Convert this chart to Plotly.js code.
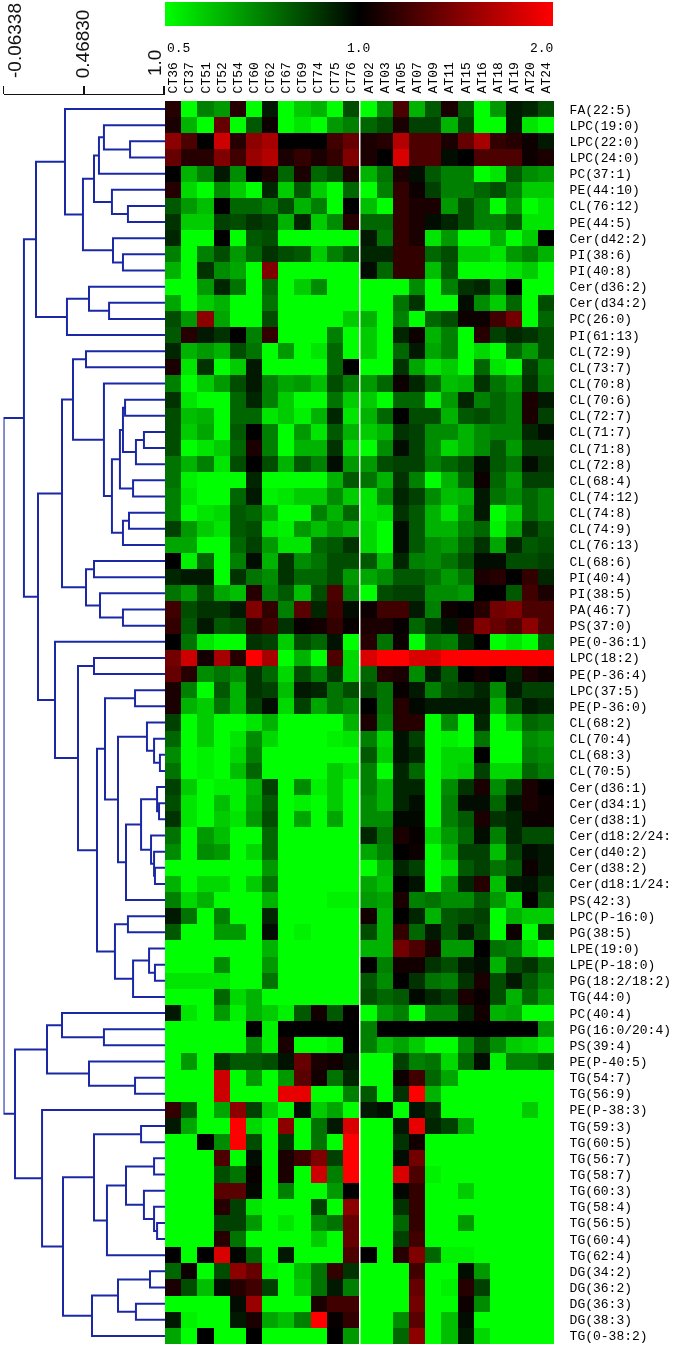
<!DOCTYPE html>
<html>
<head>
<meta charset="utf-8">
<script src="https://cdn.plot.ly/plotly-3.0.1.min.js"></script>
<style>html,body{margin:0;padding:0;background:#fff}#chart{width:675px;height:1348px;filter:blur(0.45px)}</style>
</head>
<body>
<div id="chart"></div>
<script>
const ctSamples = ['CT36','CT37','CT51','CT52','CT54','CT60','CT62','CT67','CT69','CT74','CT75','CT76'];
const atSamples = ['AT02','AT03','AT05','AT07','AT09','AT11','AT15','AT16','AT18','AT19','AT20','AT24'];
const lipids = ['FA(22:5)','LPC(19:0)','LPC(22:0)','LPC(24:0)','PC(37:1)','PE(44:10)','CL(76:12)','PE(44:5)','Cer(d42:2)','PI(38:6)','PI(40:8)','Cer(d36:2)','Cer(d34:2)','PC(26:0)','PI(61:13)','CL(72:9)','CL(73:7)','CL(70:8)','CL(70:6)','CL(72:7)','CL(71:7)','CL(71:8)','CL(72:8)','CL(68:4)','CL(74:12)','CL(74:8)','CL(74:9)','CL(76:13)','CL(68:6)','PI(40:4)','PI(38:5)','PA(46:7)','PS(37:0)','PE(0-36:1)','LPC(18:2)','PE(P-36:4)','LPC(37:5)','PE(P-36:0)','CL(68:2)','CL(70:4)','CL(68:3)','CL(70:5)','Cer(d36:1)','Cer(d34:1)','Cer(d38:1)','Cer(d18:2/24:','Cer(d40:2)','Cer(d38:2)','Cer(d18:1/24:','PS(42:3)','LPC(P-16:0)','PG(38:5)','LPE(19:0)','LPE(P-18:0)','PG(18:2/18:2)','TG(44:0)','PC(40:4)','PG(16:0/20:4)','PS(39:4)','PE(P-40:5)','TG(54:7)','TG(56:9)','PE(P-38:3)','TG(59:3)','TG(60:5)','TG(56:7)','TG(58:7)','TG(60:3)','TG(58:4)','TG(56:5)','TG(60:4)','TG(62:4)','DG(34:2)','DG(36:2)','DG(36:3)','DG(38:3)','TG(0-38:2)'];

// log2 fold change x10: -10 = 0.5, 0 = 1.0, +10 = 2.0
const ctLevels = [
[1.5,-10,-5,-6,1.5,-10,-1,-10,-8,-7,-10,-3],
[1,-7,-10,4,-10,-3.5,0.5,-10,-9,-10,-6,-5],
[5.5,3,0,8,1.5,5.5,6.5,0,0,0,2.5,4],
[4,1.5,1.5,5,2.5,6,7,1,2,1,2,5],
[0,-7,-5,-1,-5.5,0,1,-4,1,-4,-3,1],
[1.5,-8.5,-10,-5.5,-8,-10,-1.5,-8,-3.5,-8,-10,-4],
[-3.5,-6,-7.5,0,-4,-4,-5,-3,-7,-5,-10,0],
[-2,-8,-8,-2.5,-3,-2,-2.5,-7,-1.5,-8,-5.5,1.5],
[-1.5,-10,-10,0,-10,-3.5,-3,-10,-10,-10,-10,-10],
[-5,-10,-5,-3,-6,-4,-2,-3,-3.5,-8,-5,-3.5],
[-7,-10,-2,-5.5,-6.5,-10,5,-10,-10,-10,-10,-10],
[-10,-10,-6,-1.5,-4.5,-10,-4,-10,-8,-5.5,-10,-10],
[-6.5,-10,-8,-7,-10,-10,-4.5,-10,-10,-10,-10,-10],
[-3,-6,5.5,-6.5,-10,-10,-3,-10,-10,-10,-10,-8],
[-3.5,1.5,-1,-2,0,-5,2,-10,-10,-10,-5,-10],
[-1.5,-7,-6,-7,-3,-4.5,-10,-6,-10,-9,-4,-10],
[1,-9,-2,-10,-8,-1,-10,-10,-10,-10,-4,0],
[-5,-10,-8,-6,-3,-1,-5,-6.5,-6,-7.5,-3,-5],
[-2,-9,-10,-10,-4,-1.5,-5,-8,-10,-10,-4.5,-8],
[-3,-7.5,-7,-10,-4,-4,-9,-8,-9.5,-7,-1.5,-9],
[-3,-8,-6.5,-10,-3.5,0,-5,-10,-6,-9,-3.5,-7],
[-3,-10,-9,-8,-4,1,-5,-10,-7,-7,-2,-8.5],
[-4.5,-7,-5,-9,-3,0,-3,-7,-3.5,-5,-0.5,-6],
[-4.5,-9.5,-10,-10,-10,-1.5,-10,-10,-10,-10,-7,-3.5],
[-5,-9,-10,-10,-4,-1,-9.5,-9,-8,-8,-5.5,-8],
[-5,-10,-9,-8.5,-3.5,-4,-7,-10,-10,-5,-7,-4],
[-2.5,-6,-8,-9,-3.5,-3,-9,-9.5,-6,-7.5,-6,-7],
[-6.5,-6.5,-10,-10,-4,-2.5,-6,-9,-9,-4,-3.5,-2],
[0,-9.5,-4,-10,-5,-0.5,-7,-2,-5.5,-4.5,-3,-3],
[-1.5,-1,-1,-10,-2,-4.5,-5.5,-2,-4,-4,-3,-6],
[-4.5,-6,-3,-6.5,-7.5,1.5,-5,-3.5,-7.5,-3,3,-5],
[2.5,-3,-2,-2,-1,5,2,-5,3.5,-1.5,2.5,-0.5],
[2,-3.5,-1,-3.5,-3,1.5,2.5,-2,0.3,0.7,2,0.3],
[0,-4.5,-9,-10,-10,-2,-2.5,-8,-3,-4,-0.7,-10],
[4.5,8,0.8,6.5,1.5,10,6.5,-10,-7,-10,3,-8.5],
[4,1.5,-5.5,-4.5,-5.5,-2,-4,-8.5,-3,-5,-2,-8.5],
[1,-5,-10,-3.5,-7,-2,-2.5,-7.5,-1,-1.5,-4.5,-3],
[1,-7,-8,-4.5,-7,-2.5,-0.5,-8.5,-2.5,-6.5,-4.5,-5.5],
[-2.5,-10,-8,-10,-10,-9,-7,-10,-10,-10,-10,-7],
[-4,-10,-8,-10,-9,-5.5,-8.5,-10,-10,-10,-9.5,-9],
[-5.5,-10,-9.5,-10,-8.5,-5,-10,-10,-10,-10,-10,-10],
[-4.5,-10,-9.5,-10,-7.5,-4,-10,-10,-10,-10,-8,-9],
[-2.5,-8,-10,-9.5,-9.5,-7,-2.5,-10,-5.5,-9.5,-8,-10],
[-3,-9,-10,-7.5,-9.5,-6.5,-3.5,-10,-9.5,-10,-8,-10],
[-2,-9,-10,-8,-9,-6,-3,-10,-6.5,-10,-6.5,-10],
[-4.5,-10,-6,-7.5,-10,-10,-4,-10,-10,-10,-10,-10],
[-5.5,-10,-5.5,-6,-10,-8.5,-4,-10,-10,-10,-10,-10],
[-10,-10,-10,-10,-10,-10,-6,-10,-10,-10,-10,-10],
[-7,-10,-8.5,-8.5,-10,-8,-4.5,-10,-10,-10,-10,-10],
[-5,-8.5,-7,-10,-10,-10,-7,-10,-10,-10,-9.5,-9.5],
[-1,-4.5,-10,-5,-10,-10,-1.5,-10,-10,-10,-10,-10],
[-3.5,-10,-10,-6,-6,-10,-0.5,-10,-9.5,-10,-10,-10],
[-10,-10,-10,-10,-10,-10,-7,-10,-10,-10,-10,-10],
[-10,-10,-10,-5.5,-10,-10,-6,-10,-10,-10,-10,-10],
[-9,-9,-9,-9,-10,-10,-4.5,-10,-10,-10,-10,-10],
[-10,-10,-10,-4,-8.5,-7,-10,-10,-10,-10,-10,-10],
[-1,-9,-10,-6,-9.5,-7,-8,-9.5,-3.5,0.7,-3.5,0.2],
[-10,-10,-10,-10,-10,0,-9.5,0,0,0,0,0],
[-10,-10,-10,-10,-10,-5.5,-9.5,1,-10,-10,-9.5,0],
[-10,-6,-10,-2,-3.5,-3.5,-3,-0.7,4,1,0.7,-0.8],
[-10,-10,-10,8,-10,-6,-10,-6,3.5,0.7,-4.5,-1.5],
[-10,-10,-10,8,-10,-10,-10,9,9,-10,-10,-5],
[2,-3.5,-10,-6.5,5.5,-2.5,-8,-10,-0.5,-8,-6.5,-10],
[-1,-6.5,-10,-10,10,-8.5,-10,5.5,-10,-4.5,-1,8.5],
[-10,-10,0,-5.5,10,-3,-10,-2,-10,-4.5,-10,10],
[-10,-10,-10,3,-10,-0.5,-10,1,2.5,5,-2.5,10],
[-10,-10,-10,-3,-4.5,0.3,-10,1,-10,8,-5,10],
[-10,-10,-10,3.5,3.5,-0.3,-10,-5,-10,-10,-6,0],
[-10,-10,-10,1.5,-2.5,-9,-10,-10,-10,-2.5,-10,5.5],
[-10,-10,-10,-2.5,-2.5,-6,-10,-9,-10,-5.5,-4.5,4],
[-10,-10,-10,1.5,-4.5,-10,-10,-10,-10,-8,-10,4],
[0,-10,0,8.5,-0.2,-4,-10,-1,-10,-10,-10,3],
[-4,0.5,-10,-3,5.5,4,-9.5,-10,-7.5,-4.5,2,-2],
[1,-3,-7.5,-0.5,1.5,2.5,-2.5,-10,-8,-4.5,-1,-5],
[-10,-10,-10,-10,-0.5,6,-10,-10,-10,1,2.5,2.5],
[-1,-9.5,-10,-10,-1,1,-6.5,-7.5,-5,10,0.3,2],
[-6.5,-10,0,-10,-10,0,-10,-10,-10,-10,0,-6]
];
const atLevels = [
[-10,-5.5,3,-7,-3.5,1,-3.5,-10,-6,-1,-1.5,-3],
[-4,-3,1,-2.5,-2.5,-7,-2.5,-10,-10,-1,-9,-10],
[1,1.5,7,3,3,1,4,6.5,2,1.5,0.5,-1],
[1,0,8.5,3,3,-0.5,0,3,3,3,0.5,1],
[-7,-4.5,1,-0.5,-3.5,-5,-5,-10,-9,-3.5,-5.5,-6],
[-10,-5,2,0.5,-2.5,-5,-5,-4,-3,-5,-8,-8],
[-7.5,-10,2,1,1,-6,-3,-5,-10,-6,-10,-9],
[-4,-4,2,1,-0.5,-1.5,-3,-5,-5,-3.5,-9,-9],
[-1,-4.5,2,1,-9,-6,-10,-10,-7,-10,-8,0],
[-1.5,-1.5,2,2,-4,-3,-8,-8,-9,-6,-5,-7],
[-0.5,-4,2,2,-7.5,-3.5,-10,-10,-10,-9,-8,-10],
[-10,-10,-10,-5.5,-10,-5,-2,-1.5,-5,0,-10,-10],
[-10,-10,-4.5,-2,-10,-10,-0.5,-5.5,-8,-4,-10,-3],
[-7,-10,-5,-10,-4,-3,0.5,0.5,2.5,4.5,-10,-4],
[-8,-10,-1.5,0.5,-7,-5,-10,1.5,-2.5,-1.5,-2,-3],
[-8,-10,-4,-1,-6.5,-5,-10,-8.5,-10,-4,-6,-3],
[-10,-10,-2,-6.5,-9,-8,-10,-4,-9,-10,-2.5,-5],
[-6,-4,0.5,-1.5,-4,-7.5,-7,-2,-4.5,-6,-2,-4.5],
[-8,-10,-4,-4,-9.5,-6,-1.5,-5,-4,-5,1,-1],
[-7,-4,0,-3,-3,-7,-3.5,-3,-4,-5,1,-2.5],
[-8,-7,-2,-2.5,-5.5,-5.5,-7,-5.5,-5,-5,-1.5,-0.5],
[-10,-5.5,-0.5,-2.5,-5.5,-8.5,-7,-5.5,-3.5,-6,-2.5,-2.5],
[-6,-3,-2.5,-2.5,-5,-4,-3,-0.5,-3.5,-4.5,-0.5,-2],
[-4.5,-7,-2,-5,-10,-7,-4,0.5,-4,-6,-2.5,-2.5],
[-9,-5.5,-1.5,-2.5,-5.5,-7.5,-7,-1,-4.5,-5.5,-4,-5],
[-9,-8.5,-2,-3.5,-7,-9,-6,-1,-10,-8,-4,-5],
[-8.5,-10,-0.5,-3.5,-7,-7,-5,-4,-9.5,-6.5,-2,-3.5],
[-8.5,-10,-0.5,-3.5,-5.5,-6,-4,-2,-6.5,-1.5,-3.5,-3],
[-3.5,-7.5,-1.5,-5,-5.5,-4.5,-3,-0.5,-0.5,-3,-3,-2.5],
[-6.5,-5.5,-3.5,-3.5,-4.5,-6,-4.5,1,1.5,0,2,-1.5],
[-10,-3,-2.5,-2.5,-5.5,-5.5,-6,0,0,-3.5,2.5,1],
[0.5,2.5,2.5,-1,-5,0.5,0,1.5,4.5,5,3,3],
[1,1,0.3,-4,-2,-0.7,1.5,5,4,3,5.5,3],
[1.5,-4.5,0.5,-10,-4.5,-5,-1.5,0,-10,-9,-10,-3.5],
[8.5,10,10,8.5,8.5,10,10,10,10,10,10,10],
[-4,1.5,1,-5.5,-1,-3.5,0,0.7,0,-1.5,1,0.5],
[-3,-4.5,0.3,-1,-5,-3,-2.5,-1.5,-5.5,-1,-2.5,-2.5],
[0,-4.5,1.5,-0.3,-1,-1,-1,-1,-7,-3,-1,-1.5],
[1,-5,1.5,1.5,-10,-5.5,-10,-1.5,-10,-7.5,-4,-4.5],
[-5,-8.5,-0.7,-2.5,-10,-9.5,-10,-4.5,-10,-10,-5.5,-6],
[-3.5,-8,-0.7,-1.5,-10,-8.5,-8.5,0,-10,-10,-5,-5.5],
[-5,-10,-1.5,-4,-10,-8.5,-8,-2.5,-8.5,-8.5,-4,-5],
[-5,-7,-1.5,-1.5,-10,-5.5,-2,1,-5.5,-2.5,1,0],
[-5.5,-7,-1.5,-0.5,-10,-5,-0.5,-0.5,-4,-0.7,1,0.5],
[-5.5,-5.5,-0.3,-0.3,-10,-5,-3.5,1,-2,-1.5,0.5,0.5],
[-1.5,-4.5,1,0.3,-8.5,-6,-4,-0.5,-5,-1.5,-3,-3],
[-6.5,-5,0,0.5,-10,-7,-2.5,-2.5,-7.5,-2.5,-0.5,-1],
[-10,-7,-1.5,-2.5,-10,-9,-3.5,-2.5,-4.5,-3.5,0.5,-1],
[-6.5,-7.5,0,-0.7,-10,-6,-1.5,1.5,-7.5,-1,-0.7,-2],
[-6,-6.5,1,-5,-4.5,-5.5,-5.5,-3.5,-6,-8.5,0.2,-3.5],
[0.7,-7,0,-1.5,-7,-3.5,-3,-2.5,-10,-7,-8,-8],
[-3,-7,2,-4,-1,-3.5,-1,-3,-10,0.5,-10,-2],
[-7,-7,4.5,3,1,-6,-6,0,-4.5,-5,-8.5,-10],
[0,-5,0.7,0.7,-2,-3,-1,-0.5,-7,-3,-2,-4],
[-3.5,-5.5,0,-2,-4.5,-5,-2,1,-3,-1,-3.5,-5],
[-3,-4,-3.5,-0.3,-1.5,-2.5,1,0.3,-3,-7,-4,-6],
[-10,-6,-5,-10,-5,-5,-1.5,0.7,-7,-6.5,-10,-10],
[-5,0,0,0,0,0,0,0,0,0,0,-6],
[-5,-7.5,-6.5,-8,-10,-10,-5.5,-3,-5.5,-8,-8.5,-9.5],
[-10,-10,-2.5,-5,-4.5,-8.5,-4,-0.5,-9.5,-5,-5,-4],
[-10,-10,0.5,2.5,-4,-6.5,-10,-10,-10,-10,-10,-10],
[-3.5,-10,-2,10,-7,-10,-10,-10,-10,-10,-10,-10],
[-1,-0.5,-10,-0.7,-2,-10,-10,-10,-10,-10,-8,-10],
[-10,-10,-1,9,-1.5,-2.5,-6.5,-10,-10,-10,-10,-10],
[-10,-10,-2,0.7,-10,-10,-10,-10,-10,-10,-10,-10],
[-10,-10,-0.5,4.5,-10,-10,-10,-10,-10,-10,-10,-10],
[-10,-10,8.5,3,-9.5,-10,-10,-10,-10,-10,-10,-10],
[-10,-10,-0.3,2,-10,-10,-8,-10,-10,-10,-10,-10],
[-10,-10,-2,2,-10,-10,-10,-10,-10,-10,-10,-10],
[-10,-10,-4,2,-10,-10,-6,-10,-10,-10,-10,-10],
[-10,-10,-2.5,2.5,-10,-10,-10,-10,-10,-10,-10,-10],
[0,-10,1.5,5,-4,-9.5,-9.5,-10,-10,-10,-10,-10],
[-10,-10,-10,2.5,-10,-10,-0.5,-6,-10,-10,-10,-10],
[-10,-10,-10,4,-10,-9.5,1.5,-2.5,-10,-10,-10,-10],
[-10,-10,-10,4.5,-10,-10,0.5,-5.5,-10,-10,-10,-10],
[-10,-10,-5.5,3.5,-10,-7.5,-0.5,-10,-10,-10,-10,-10],
[-10,-10,-4,5.5,-10,-7.5,-1,-8.5,-10,-10,-10,-10]
];

// Dendrogram: [merge distance, child, child]; a plain number is a row number of lipids
const dendrogram = [-0.063,
 [0.072,
  [0.152,
   [0.344, 1,
    [0.463,
     [0.536, [0.569, [0.602, 2, [0.775, 3, 4]], 5], [0.655, 6, [0.761, 7, 8]]],
     [0.662, 9, [0.728, 10, 11]]]],
   [0.357, [0.503, 12, [0.636, 13, 14]], 15]],
  [0.165,
   [0.324,
    [0.397, [0.483, 16, 17],
     [0.602, 18,
      [0.655,
       [0.708, [0.728, [0.742, 19, 20], [0.814, [0.867, 21, 22], 23]], [0.795, 24, 25]],
       [0.728, [0.768, 26, 27], 28]]]],
    [0.483, [0.536, 29, 30], [0.576, 31, [0.728, 32, 33]]]],
   [0.278, 34,
    [0.430, [0.536, 35, 36],
     [0.556,
      [0.609, [0.808, 37, 38],
       [0.695, [0.887, 39, [0.934, 40, [0.973, 41, 42]]],
        [0.748,
         [0.848, [0.954, 43, [0.967, 44, 45]], [0.914, 46, [0.934, 47, [0.940, 48, 49]]]],
         50]]],
      [0.675, [0.761, 51, 52], [0.795, [0.901, 53, [0.940, 54, 55]], 56]]]]]]],
 [0.013,
  [0.225, [0.324, 57, [0.602, 58, 59]], [0.503, 60, [0.808, 61, 62]]],
  [0.192, 63,
   [0.331,
    [0.536, [0.848, 64, 65],
     [0.622, [0.748, [0.934, 66, 67], [0.867, 68, [0.934, 69, [0.954, 70, 71]]]], 72]],
    [0.523, [0.695, [0.907, 73, 74], [0.814, 75, 76]], 77]]]]];

const scaleValues = [-0.06338, 0.46830, 1.0];
const scaleLabels = ['-0.06338', '0.46830', '1.0'];
const colorKeyLabels = ['0.5', '1.0', '2.0'];

const W = 675, H = 1348;
const px = v => v / W;
const py = v => 1 - v / H;
const gap = 0.124;                 // white line between the two sample groups, in cell units
const leafDistance = 1.0065;

const toZ = rows => rows.map(r => r.map(v => v / 10));
const ctX = ctSamples.map((_, i) => i);
const atX = atSamples.map((_, i) => i + 12 + gap);
const rowY = lipids.map((_, i) => i);

const segX = [], segY = [];
function walk(node) {
  if (!Array.isArray(node)) return {d: leafDistance, y: node - 1};
  const a = walk(node[1]), b = walk(node[2]);
  segX.push(a.d, node[0], node[0], b.d, null);
  segY.push(a.y, a.y, b.y, b.y, null);
  return {d: node[0], y: (a.y + b.y) / 2};
}
walk(dendrogram);

const labelFont = {family: '"Liberation Mono", monospace', size: 13, color: '#000'};

const traces = [
  {type: 'heatmap', x: ctX, y: rowY, z: toZ(ctLevels), coloraxis: 'coloraxis', xaxis: 'x', yaxis: 'y', hoverinfo: 'skip'},
  {type: 'heatmap', x: atX, y: rowY, z: toZ(atLevels), coloraxis: 'coloraxis', xaxis: 'x', yaxis: 'y', hoverinfo: 'skip'},
  {type: 'scatter', mode: 'lines', x: segX, y: segY, xaxis: 'x2', yaxis: 'y',
   line: {color: '#1a28a6', width: 2}, hoverinfo: 'skip', cliponaxis: false, connectgaps: false}
];

const scaleAnnotations = scaleValues.map((v, i) => ({
  xref: 'x2', yref: 'paper', x: v, y: py([80, 80, 78][i]),
  xshift: [11, -1, -9][i], yanchor: 'bottom', xanchor: 'center',
  text: scaleLabels[i], textangle: -90, showarrow: false,
  font: {family: '"Liberation Sans", Arial, sans-serif', size: 19, color: '#111'}
}));
const keyAnnotations = colorKeyLabels.map((t, i) => ({
  xref: 'paper', yref: 'paper', x: px([178, 359, 541][i]), y: py(48),
  xanchor: 'center', yanchor: 'middle', text: t, showarrow: false, font: labelFont
}));

const layout = {
  width: W, height: H,
  margin: {l: 0, r: 0, t: 0, b: 0, pad: 0, autoexpand: false},
  paper_bgcolor: '#fff', plot_bgcolor: '#fff', showlegend: false,
  xaxis: {
    domain: [px(165), px(554)], range: [-0.5, 23.5 + gap], anchor: 'y', side: 'top',
    tickmode: 'array', tickvals: ctX.concat(atX), ticktext: ctSamples.concat(atSamples),
    tickangle: -90, ticks: 'outside', ticklen: 4, tickcolor: 'rgba(0,0,0,0)', tickfont: labelFont,
    showgrid: false, zeroline: false, showline: false
  },
  xaxis2: {
    domain: [px(3.5), px(165)], range: [-0.0634, leafDistance], anchor: 'free', position: py(93.5), side: 'top',
    tickmode: 'array', tickvals: scaleValues, ticks: 'outside', ticklen: 8, tickwidth: 1.5, tickcolor: '#111',
    showticklabels: false, showgrid: false, zeroline: false, showline: true, linecolor: '#111', linewidth: 1.5
  },
  yaxis: {
    domain: [py(1344), py(101)], range: [76.5, -0.5], anchor: 'x', side: 'right',
    tickmode: 'array', tickvals: rowY, ticktext: lipids,
    ticks: 'outside', ticklen: 12, tickcolor: 'rgba(0,0,0,0)', tickfont: labelFont,
    showgrid: false, zeroline: false, showline: false
  },
  coloraxis: {
    cmin: -1, cmax: 1,
    colorscale: [[0, '#00ff00'], [0.5, '#000000'], [1, '#ff0000']],
    colorbar: {
      orientation: 'h', lenmode: 'pixels', len: 388, thicknessmode: 'pixels', thickness: 24,
      x: px(165), xanchor: 'left', y: py(2), yanchor: 'top', xpad: 0, ypad: 0,
      outlinewidth: 0, borderwidth: 0, ticks: '', showticklabels: false
    }
  },
  annotations: scaleAnnotations.concat(keyAnnotations)
};

Plotly.newPlot('chart', traces, layout, {displayModeBar: false, staticPlot: true});
</script>
</body>
</html>
